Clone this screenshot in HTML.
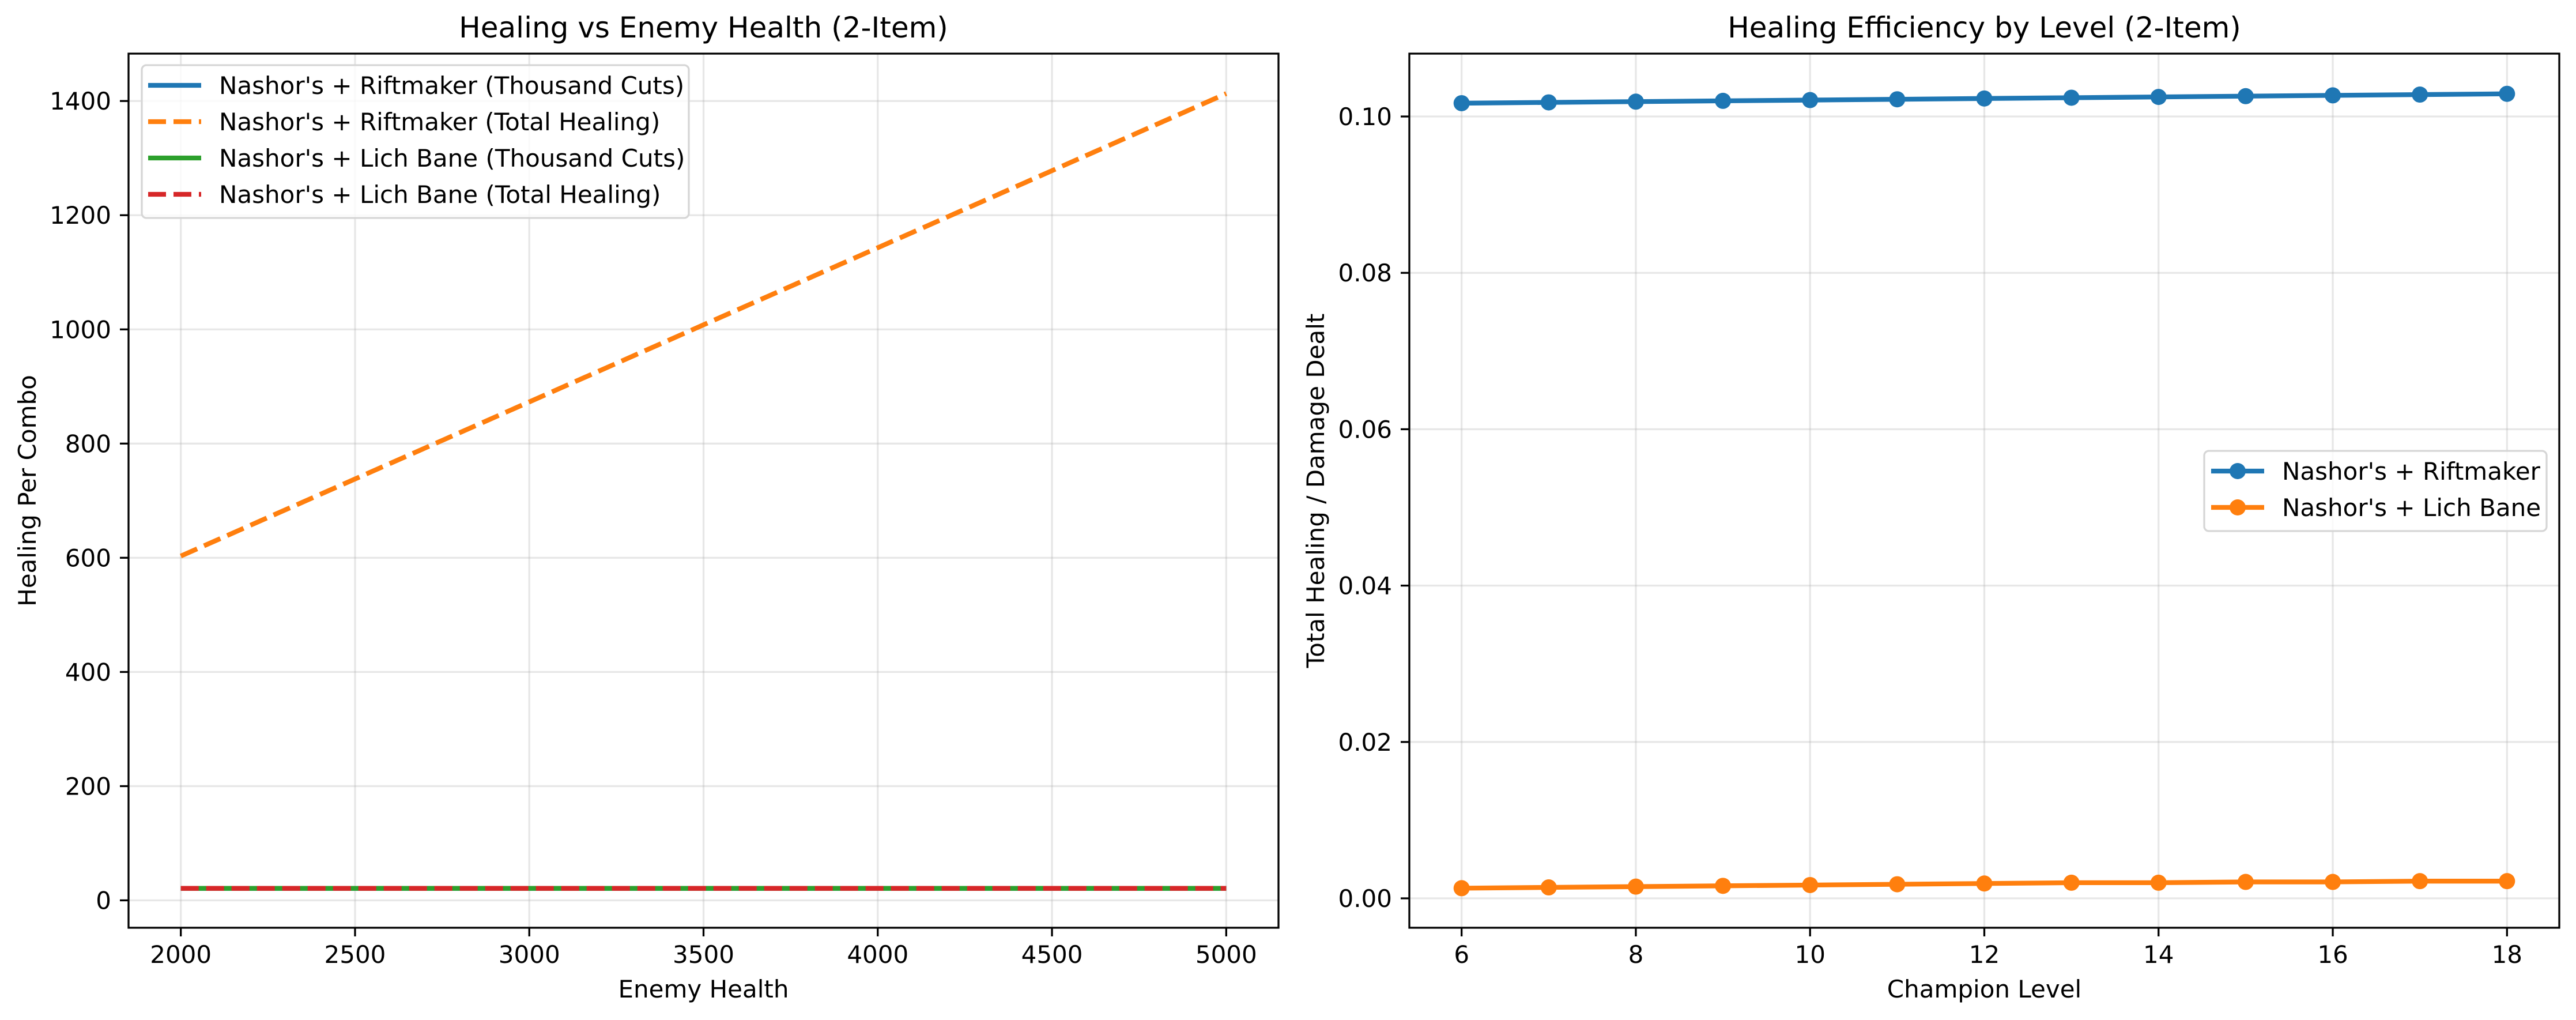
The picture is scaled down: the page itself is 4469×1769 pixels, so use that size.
<!DOCTYPE html>
<html><head><meta charset="utf-8"><style>
html,body{margin:0;padding:0;background:#fff;}
svg{display:block;font-family:"DejaVu Sans","Liberation Sans",sans-serif;}
</style></head><body>
<svg id="fig" width="4469" height="1769" viewBox="0 0 4469 1769" xmlns="http://www.w3.org/2000/svg">
<rect width="4469" height="1769" fill="#fff"/>
<g id="left"></g>
<g id="right"></g>
</svg>
<script>
// Left chart data
const healthValues = [2000, 2500, 3000, 3500, 4000, 4500, 5000];
const riftCuts = [21, 21, 21, 21, 21, 21, 21];
const riftTotal = [603, 738, 873, 1008, 1143, 1278, 1413];
const lichCuts = [21, 21, 21, 21, 21, 21, 21];
const lichTotal = [21, 21, 21, 21, 21, 21, 21];
const leftXTicks = [2000, 2500, 3000, 3500, 4000, 4500, 5000];
const leftYTicks = [0, 200, 400, 600, 800, 1000, 1200, 1400];
// Right chart data
const levels = [6, 7, 8, 9, 10, 11, 12, 13, 14, 15, 16, 17, 18];
const riftEff = [0.1017, 0.1018, 0.1019, 0.1020, 0.1021, 0.1022, 0.1023, 0.1024, 0.1025, 0.1026, 0.1027, 0.1028, 0.1029];
const lichEff = [0.0013, 0.0014, 0.0015, 0.0016, 0.0017, 0.0018, 0.0019, 0.0020, 0.0020, 0.0021, 0.0021, 0.0022, 0.0022];
const rightXTicks = [6, 8, 10, 12, 14, 16, 18];
const rightYTicks = [0.00, 0.02, 0.04, 0.06, 0.08, 0.10];

const NS = "http://www.w3.org/2000/svg";
function mk(parent, tag, attrs, text) {
  const e = document.createElementNS(NS, tag);
  for (const k in attrs) e.setAttribute(k, attrs[k]);
  if (text !== undefined) e.textContent = text;
  parent.appendChild(e);
  return e;
}
const FS = 42;

function axes(g, box, xmin, xmax, ymin, ymax, xticks, yticks, xfmt, yfmt, title, xlabel, ylabel, ylabX) {
  const sx = v => box.l + (v - xmin) / (xmax - xmin) * (box.r - box.l);
  const sy = v => box.b - (v - ymin) / (ymax - ymin) * (box.b - box.t);
  const grid = mk(g, 'g', {});
  
  
  xticks.forEach(v => {
    mk(grid, 'line', {x1: sx(v), x2: sx(v), y1: box.t, y2: box.b, stroke: '#b0b0b0', 'stroke-opacity': 0.3, 'stroke-width': 3.3});
    const t = mk(g, 'line', {x1: sx(v), x2: sx(v), y1: box.b, y2: box.b + 15, stroke: '#000', 'stroke-width': 3.3});
    
    
    const l = mk(g, 'text', {x: sx(v), y: box.b + 61, 'font-size': FS, 'text-anchor': 'middle'}, xfmt(v));
    
    
  });
  yticks.forEach(v => {
    mk(grid, 'line', {x1: box.l, x2: box.r, y1: sy(v), y2: sy(v), stroke: '#b0b0b0', 'stroke-opacity': 0.3, 'stroke-width': 3.3});
    const t = mk(g, 'line', {x1: box.l - 15, x2: box.l, y1: sy(v), y2: sy(v), stroke: '#000', 'stroke-width': 3.3});
    
    
    const l = mk(g, 'text', {x: box.l - 30, y: sy(v) + 15, 'font-size': FS, 'text-anchor': 'end'}, yfmt(v));
    
    
  });
  const tt = mk(g, 'text', {x: (box.l + box.r) / 2, y: 65, 'font-size': 50, 'text-anchor': 'middle'}, title);
  
  
  const xl = mk(g, 'text', {x: (box.l + box.r) / 2, y: 1730, 'font-size': FS, 'text-anchor': 'middle'}, xlabel);
  
  
  const cy = (box.t + box.b) / 2;
  const yl = mk(g, 'text', {x: ylabX, y: cy, 'font-size': FS, 'text-anchor': 'middle', transform: `rotate(-90 ${ylabX} ${cy})`}, ylabel);
  
  
  return {sx, sy};
}
function frame(g, box) {
  const f = mk(g, 'rect', {x: box.l, y: box.t, width: box.r - box.l, height: box.b - box.t, fill: 'none', stroke: '#000', 'stroke-width': 3.3});
  
  
}
function series(g, xs, ys, sx, sy, color, dashed, name, markers) {
  const pts = xs.map((x, i) => sx(x) + ',' + sy(ys[i])).join(' ');
  const sg = mk(g, 'g', {});
  
  
  const a = {points: pts, fill: 'none', stroke: color, 'stroke-width': 8.3};
  if (dashed) a['stroke-dasharray'] = '31 13';
  mk(sg, 'polyline', a);
  if (markers) xs.forEach((x, i) => {
    const c = mk(sg, 'circle', {cx: sx(x), cy: sy(ys[i]), r: 14, fill: color});
    
    
  });
}
function legend(g, box, rows) {
  const lg = mk(g, 'g', {});
  
  
  mk(lg, 'rect', {x: box.x, y: box.y, width: box.w, height: box.h, rx: 8, fill: '#fff', 'fill-opacity': 0.8, stroke: '#d6d6d6', 'stroke-width': 3.3});
  rows.forEach((r, i) => {
    const y = box.r0 + i * box.dy;
    const e = mk(lg, 'g', {});
    
    
    const a = {x1: box.hx, x2: box.hx + 92, y1: y, y2: y, stroke: r.c, 'stroke-width': 8.3};
    if (r.d) a['stroke-dasharray'] = '31 13';
    mk(e, 'line', a);
    if (r.m) mk(e, 'circle', {cx: box.hx + 46, cy: y, r: 14, fill: r.c});
    mk(e, 'text', {x: box.tx, y: y + 15, 'font-size': FS}, r.t);
  });
}

// Left chart
const gL = document.getElementById('left');
const boxL = {l: 223, r: 2218, t: 93, b: 1609};
const A = axes(gL, boxL, 1850, 5150, -48, 1483, leftXTicks, leftYTicks, v => String(v), v => String(v),
  'Healing vs Enemy Health (2-Item)', 'Enemy Health', 'Healing Per Combo', 62);
series(gL, healthValues, riftCuts, A.sx, A.sy, '#1f77b4', false, 'riftmaker-thousand-cuts-line', false);
series(gL, healthValues, riftTotal, A.sx, A.sy, '#ff7f0e', true, 'riftmaker-total-healing-line', false);
series(gL, healthValues, lichCuts, A.sx, A.sy, '#2ca02c', false, 'lich-bane-thousand-cuts-line', false);
series(gL, healthValues, lichTotal, A.sx, A.sy, '#d62728', true, 'lich-bane-total-healing-line', false);
frame(gL, boxL);
legend(gL, {x: 246, y: 113, w: 949, h: 265, r0: 148, dy: 63, hx: 257, tx: 380}, [
  {t: "Nashor's + Riftmaker (Thousand Cuts)", c: '#1f77b4', d: false},
  {t: "Nashor's + Riftmaker (Total Healing)", c: '#ff7f0e', d: true},
  {t: "Nashor's + Lich Bane (Thousand Cuts)", c: '#2ca02c', d: false},
  {t: "Nashor's + Lich Bane (Total Healing)", c: '#d62728', d: true}
]);

// Right chart
const gR = document.getElementById('right');
const boxR = {l: 2445, r: 4440, t: 93, b: 1609};
const B = axes(gR, boxR, 5.4, 18.6, -0.00376, 0.10804, rightXTicks, rightYTicks, v => String(v), v => v.toFixed(2),
  'Healing Efficiency by Level (2-Item)', 'Champion Level', 'Total Healing / Damage Dealt', 2297);
series(gR, levels, riftEff, B.sx, B.sy, '#1f77b4', false, 'riftmaker-efficiency-line', true);
series(gR, levels, lichEff, B.sx, B.sy, '#ff7f0e', false, 'lich-bane-efficiency-line', true);
frame(gR, boxR);
legend(gR, {x: 3824, y: 782, w: 594, h: 139, r0: 817, dy: 63, hx: 3836, tx: 3959}, [
  {t: "Nashor's + Riftmaker", c: '#1f77b4', m: true},
  {t: "Nashor's + Lich Bane", c: '#ff7f0e', m: true}
]);
</script>
</body></html>
